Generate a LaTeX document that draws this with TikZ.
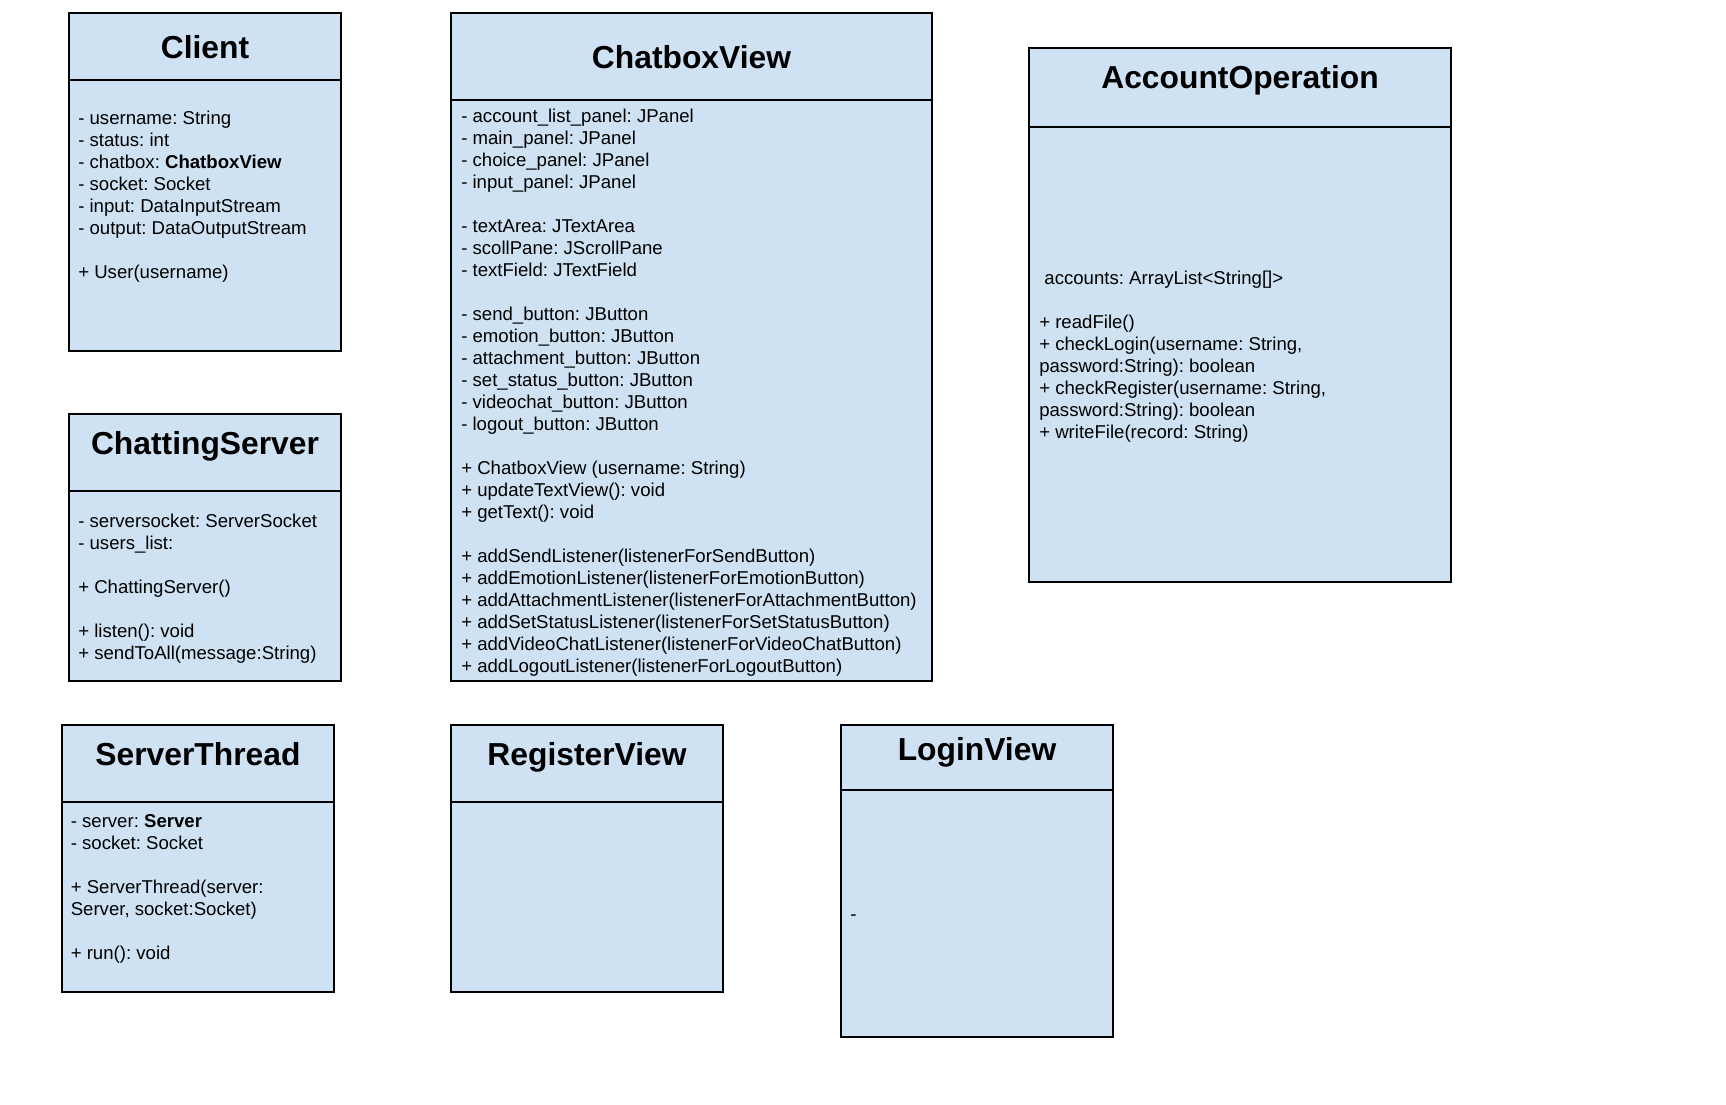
\documentclass[tikz,border=0pt]{standalone}
\usepackage{fontspec}
\setmainfont{Liberation Sans}
\usepackage{xcolor}
\usetikzlibrary{positioning}
\definecolor{umlblue}{HTML}{CFE2F3}
\frenchspacing
\tikzset{
  classbox/.style={rectangle, draw=black, line width=1.5pt, fill=umlblue, inner sep=0pt, outer sep=0pt, anchor=north west},
  classtitle/.style={anchor=base, inner sep=0pt, font=\fontsize{23.85pt}{28pt}\selectfont\bfseries},
  members/.style={anchor=north west, inner sep=0pt, align=left, font=\fontsize{13.95pt}{16.5pt}\selectfont}
}

\begin{document}
\begin{tikzpicture}[x=0.75pt, y=-0.75pt]
\useasboundingbox (0,0) rectangle (1726,1104);
\fill[white] (0,0) rectangle (1726,1104);

\node[classbox, minimum width=204pt, minimum height=50.25pt] (clienthead) at (69,13) {};
\node[classbox, minimum width=204pt, minimum height=203.25pt] (clientbody) at (clienthead.south west) {};
\node[classtitle] (clienttitle) at (205,58.4) {Client};
\node[members] (clientattr) at (78,111) {- username: String\\- status: int\\- chatbox: \textbf{ChatboxView}\\- socket: Socket\\- input: DataInputStream\\- output: DataOutputStream\\[16.5pt]+ User(username)};

\node[classbox, minimum width=360.75pt, minimum height=65.25pt] (chatboxhead) at (451,13) {};
\node[classbox, minimum width=360.75pt, minimum height=435.75pt] (chatboxbody) at (chatboxhead.south west) {};
\node[classtitle] (chatboxtitle) at (691.5,68.4) {ChatboxView};
\node[members] (chatboxattr) at (461,109) {- account\_list\_panel: JPanel\\- main\_panel: JPanel\\- choice\_panel: JPanel\\- input\_panel: JPanel\\[16.5pt]- textArea: JTextArea\\- scollPane: JScrollPane\\- textField: JTextField\\[16.5pt]- send\_button: JButton\\- emotion\_button: JButton\\- attachment\_button: JButton\\- set\_status\_button: JButton\\- videochat\_button: JButton\\- logout\_button: JButton\\[16.5pt]+ ChatboxView (username: String)\\+ updateTextView(): void\\+ getText(): void\\[16.5pt]+ addSendListener(listenerForSendButton)\\+ addEmotionListener(listenerForEmotionButton)\\+ addAttachmentListener(listenerForAttachmentButton)\\+ addSetStatusListener(listenerForSetStatusButton)\\+ addVideoChatListener(listenerForVideoChatButton)\\+ addLogoutListener(listenerForLogoutButton)};

\node[classbox, minimum width=316.5pt, minimum height=59.25pt] (accounthead) at (1029,48) {};
\node[classbox, minimum width=316.5pt, minimum height=341.25pt] (accountbody) at (accounthead.south west) {};
\node[classtitle] (accounttitle) at (1240,88.4) {AccountOperation};
\node[members] (accountattr) at (1039,270.5) {~accounts: ArrayList<String[]>\\[16.5pt]+ readFile()\\+ checkLogin(username: String,\\password:String): boolean\\+ checkRegister(username: String,\\password:String): boolean\\+ writeFile(record: String)};

\node[classbox, minimum width=204pt, minimum height=57.75pt] (serverhead) at (69,414) {};
\node[classbox, minimum width=204pt, minimum height=142.5pt] (serverbody) at (serverhead.south west) {};
\node[classtitle] (servertitle) at (205,454) {ChattingServer};
\node[members] (serverattr) at (78,514) {- serversocket: ServerSocket\\- users\_list:\\[16.5pt]+ ChattingServer()\\[16.5pt]+ listen(): void\\+ sendToAll(message:String)};

\node[classbox, minimum width=204pt, minimum height=57.75pt] (threadhead) at (62,725) {};
\node[classbox, minimum width=204pt, minimum height=142.5pt] (threadbody) at (threadhead.south west) {};
\node[classtitle] (threadtitle) at (198,765.4) {ServerThread};
\node[members] (threadattr) at (70.5,814) {- server: \textbf{Server}\\- socket: Socket\\[16.5pt]+ ServerThread(server:\\Server, socket:Socket)\\[16.5pt]+ run(): void};

\node[classbox, minimum width=204pt, minimum height=57.75pt] (registerhead) at (451,725) {};
\node[classbox, minimum width=204pt, minimum height=142.5pt] (registerbody) at (registerhead.south west) {};
\node[classtitle] (registertitle) at (587,765.4) {RegisterView};

\node[classbox, minimum width=204pt, minimum height=48.75pt] (loginhead) at (841,725) {};
\node[classbox, minimum width=204pt, minimum height=185.25pt] (loginbody) at (loginhead.south west) {};
\node[classtitle] (logintitle) at (977,760) {LoginView};
\node[members, anchor=base west] (loginattr) at (850,920) {-};
\end{tikzpicture}
\end{document}
